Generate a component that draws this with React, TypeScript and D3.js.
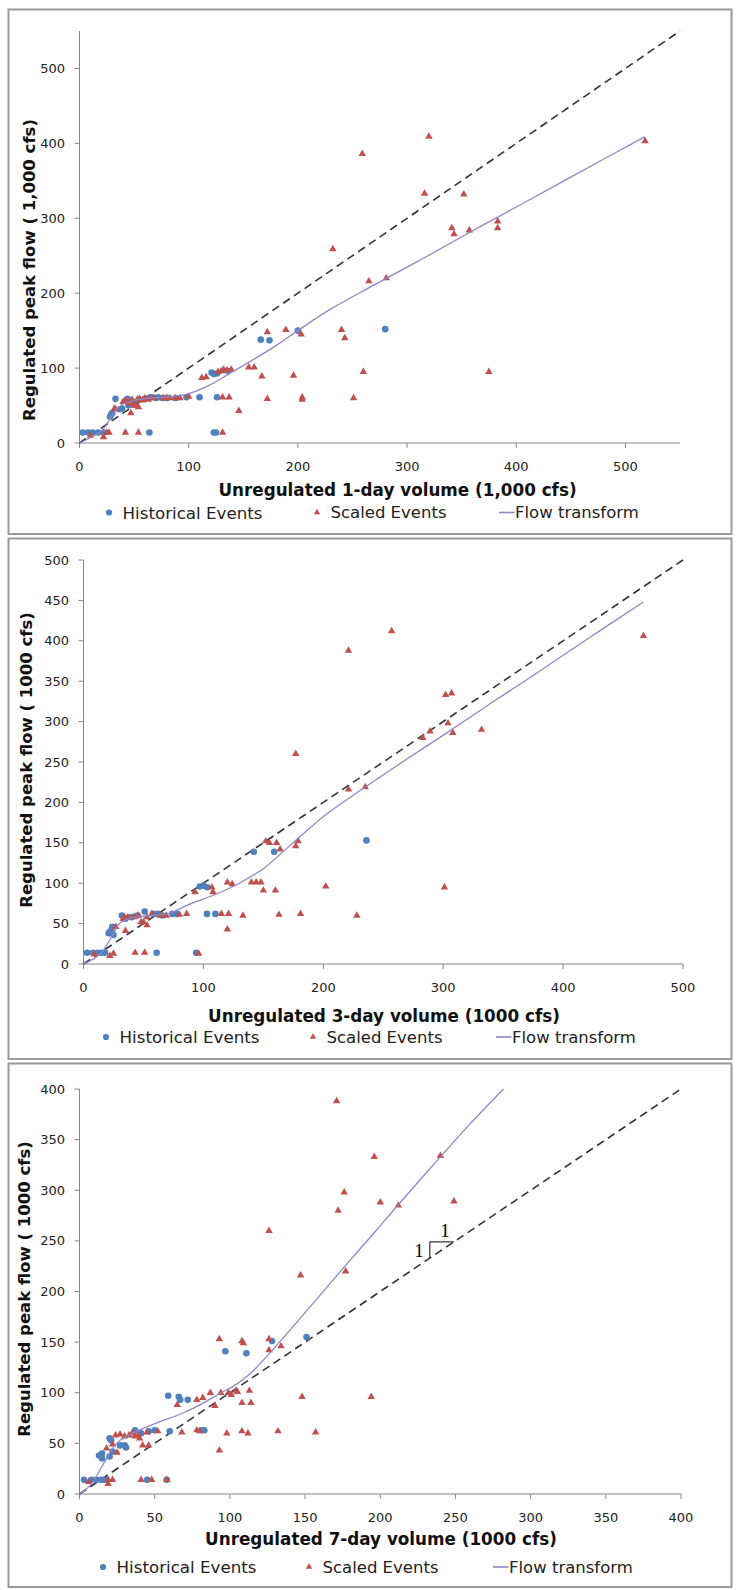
import React from "react";
import * as d3 from "d3";

// ---------- Panel 1 (1-day) ----------
const HIST1_X = [3, 8, 12, 17, 22, 28, 29, 30, 33, 37, 39, 44, 45, 50, 55, 60, 66, 70, 72, 76, 80, 88, 98, 110, 126, 64, 123, 125, 121, 123, 126, 136, 166, 174, 200, 280];
const HIST1_Y = [14, 14, 14, 14, 14, 35, 38, 40, 59, 45, 46, 59, 50, 55, 58, 59, 61, 60, 61, 60, 60, 60, 61, 61, 61, 14, 14, 14, 94, 92, 93, 96, 138, 137, 150, 152];
const SCALED1_X = [10, 22, 25, 27, 42, 54, 131, 32, 33, 40, 42, 45, 48, 50, 51, 53, 55, 58, 60, 63, 68, 77, 80, 83, 88, 92, 100, 47, 51, 54, 112, 116, 127, 130, 132, 135, 139, 131, 137, 172, 204, 204, 251, 146, 155, 160, 167, 196, 260, 375, 172, 189, 203, 240, 243, 232, 265, 281, 259, 320, 316, 352, 341, 343, 357, 383, 383, 518];
const SCALED1_Y = [10, 8, 14, 14, 14, 14, 14, 46, 45, 55, 57, 53, 58, 52, 50, 58, 59, 57, 60, 58, 60, 60, 60, 60, 60, 60, 62, 40, 50, 48, 87, 88, 95, 96, 98, 97, 98, 61, 61, 59, 61, 58, 60, 43, 101, 101, 89, 90, 95, 95, 148, 151, 145, 151, 140, 259, 216, 220, 386, 409, 333, 332, 287, 279, 284, 296, 287, 403];
const FLOW1_X = [0, 10, 20, 27, 33, 40, 50, 65, 85, 100, 120, 140, 160, 180, 200, 228, 270, 313, 356, 400, 450, 518];
const FLOW1_Y = [0, 7, 16, 30, 44, 52, 57, 60, 62, 66, 78, 95, 112, 130, 150, 177, 211, 245, 280, 315, 355, 409];
const X1_TICKS = [0, 100, 200, 300, 400, 500];
const Y1_TICKS = [0, 100, 200, 300, 400, 500];

// ---------- Panel 2 (3-day) ----------
const HIST2_X = [3, 8, 12, 15, 18, 61, 94, 21, 22, 23, 25, 24, 32, 35, 40, 45, 51, 58, 62, 66, 74, 78, 103, 110, 97, 100, 103, 142, 159, 236];
const HIST2_Y = [14, 14, 14, 14, 14, 14, 14, 38, 40, 41, 36, 46, 60, 56, 58, 60, 65, 62, 62, 60, 62, 62, 62, 62, 96, 97, 95, 139, 139, 153];
const SCALED2_X = [9, 22, 25, 43, 51, 96, 27, 35, 34, 33, 37, 42, 46, 48, 53, 57, 64, 69, 80, 86, 50, 53, 115, 121, 133, 163, 181, 120, 228, 93, 107, 108, 120, 124, 140, 144, 148, 150, 160, 152, 155, 161, 164, 177, 179, 202, 301, 221, 235, 177, 257, 221, 302, 307, 283, 289, 304, 308, 332, 467];
const SCALED2_Y = [12, 10, 13, 14, 14, 13, 46, 41, 58, 56, 58, 58, 60, 52, 58, 62, 60, 60, 61, 62, 52, 48, 62, 62, 60, 61, 62, 43, 60, 89, 95, 89, 101, 99, 101, 101, 101, 91, 91, 152, 150, 150, 142, 146, 152, 96, 95, 216, 219, 260, 412, 388, 333, 335, 280, 288, 298, 286, 290, 406];
const FLOW2_X = [0, 8, 15, 20, 25, 30, 40, 55, 70, 90, 110, 130, 150, 165, 180, 205, 235, 270, 303, 340, 375, 420, 467];
const FLOW2_Y = [0, 6, 14, 25, 38, 50, 57, 60, 62, 75, 86, 100, 118, 137, 157, 188, 219, 254, 286, 323, 357, 402, 448];
const X2_TICKS = [0, 100, 200, 300, 400, 500];
const Y2_TICKS = [0, 50, 100, 150, 200, 250, 300, 350, 400, 450, 500];

// ---------- Panel 3 (7-day) ----------
const HIST3_X = [3, 8, 11, 14, 16, 18, 45, 58, 13, 15, 15, 20, 22, 20, 21, 27, 30, 31, 37, 41, 46, 50, 60, 81, 83, 59, 66, 67, 72, 97, 111, 128, 151];
const HIST3_Y = [14, 14, 14, 14, 14, 14, 14, 14, 38, 40, 35, 37, 42, 55, 53, 48, 48, 46, 63, 60, 62, 63, 62, 63, 63, 97, 96, 93, 93, 141, 139, 151, 155];
const SCALED3_X = [6, 19, 22, 19, 41, 48, 58, 18, 22, 25, 24, 27, 30, 33, 35, 37, 39, 40, 42, 46, 45, 52, 68, 78, 80, 93, 98, 108, 112, 132, 157, 148, 65, 78, 82, 87, 90, 94, 99, 101, 104, 105, 113, 108, 114, 93, 108, 109, 126, 126, 134, 126, 147, 177, 172, 176, 196, 200, 212, 240, 249, 171, 194];
const SCALED3_Y = [12, 14, 14, 10, 14, 14, 14, 45, 49, 41, 58, 59, 57, 58, 60, 57, 58, 55, 48, 48, 61, 62, 61, 63, 62, 43, 60, 62, 60, 62, 61, 96, 88, 93, 95, 100, 87, 100, 100, 98, 102, 101, 102, 90, 90, 153, 151, 149, 153, 142, 146, 260, 216, 220, 280, 298, 333, 288, 285, 334, 289, 388, 96];
const FLOW3_X = [0, 8, 16, 22, 27, 38, 51, 69, 80, 93, 105, 115, 127, 147, 165, 180, 196, 211, 240, 260, 282];
const FLOW3_Y = [0, 10, 30, 45, 53, 62, 70, 80, 88, 99, 109, 121, 140, 174, 205, 231, 258, 284, 333, 366, 400];
const X3_TICKS = [0, 50, 100, 150, 200, 250, 300, 350, 400];
const Y3_TICKS = [0, 50, 100, 150, 200, 250, 300, 350, 400];
// slope annotation (data units)
const SLOPE3 = { x0: 233, x1: 249 };

const LEGEND_LABELS = ["Historical Events", "Scaled Events", "Flow transform"];

const BLUE = "#4f81bd";
const RED = "#c0504d";
const PURPLE = "#9484c9";
const AXIS = "#868686";
const FONT = "'DejaVu Sans', Verdana, sans-serif";

type PanelCfg = {
  box: [number, number];
  xMax: number;
  yMax: number;
  xRange: [number, number];
  yRange: [number, number];
  xTicks: number[];
  yTicks: number[];
  histX: number[];
  histY: number[];
  scaledX: number[];
  scaledY: number[];
  flowX: number[];
  flowY: number[];
  xTitle: string;
  yTitle: string;
  xTitlePos: [number, number];
  yTitlePos: [number, number];
  legendY: number;
  legendX: [number, number, number];
  slope?: boolean;
};

const tri = d3.symbol().type(d3.symbolTriangle).size(24)() as string;
const triSmall = d3.symbol().type(d3.symbolTriangle).size(18)() as string;

function Panel({ c }: { c: PanelCfg }) {
  const x = d3.scaleLinear().domain([0, c.xMax]).range(c.xRange);
  const y = d3.scaleLinear().domain([0, c.yMax]).range(c.yRange);
  const line = d3
    .line<number>()
    .x((_, i) => x(c.flowX[i]))
    .y((_, i) => y(c.flowY[i]))
    .curve(d3.curveCatmullRom.alpha(0.5));
  const one = Math.min(c.xMax, c.yMax);
  const [lx0, lx1, lx2] = c.legendX;
  return (
    <g>
      <rect x={8.5} y={c.box[0]} width={723} height={c.box[1] - c.box[0]} fill="#fff" stroke="#9a9a9a" strokeWidth={2} />
      {/* axes */}
      <line x1={x(0)} x2={x(c.xMax)} y1={y(0)} y2={y(0)} stroke={AXIS} strokeWidth={1} />
      <line x1={x(0)} x2={x(0)} y1={y(0)} y2={y(c.yMax)} stroke={AXIS} strokeWidth={1} />
      {c.xTicks.map((t) => (
        <g key={"xt" + t}>
          <line x1={x(t)} x2={x(t)} y1={y(0)} y2={y(0) + 5} stroke={AXIS} />
          <text x={x(t)} y={y(0) + 23.5} textAnchor="middle" dominantBaseline="central" fontSize={13} fontFamily={FONT} fill="#222">
            {t}
          </text>
        </g>
      ))}
      {c.yTicks.map((t) => (
        <g key={"yt" + t}>
          <line x1={x(0) - 5} x2={x(0)} y1={y(t)} y2={y(t)} stroke={AXIS} />
          <text x={x(0) - 14.5} y={y(t)} textAnchor="end" dominantBaseline="central" fontSize={13} fontFamily={FONT} fill="#222">
            {t}
          </text>
        </g>
      ))}
      {/* 1:1 line */}
      <line x1={x(0)} y1={y(0)} x2={x(one)} y2={y(one)} stroke="#333" strokeWidth={1.6} strokeDasharray="8,5" />
      {c.histX.map((v, i) => (
        <circle key={"h" + i} cx={x(v)} cy={y(c.histY[i])} r={3.3} fill={BLUE} />
      ))}
      {c.scaledX.map((v, i) => (
        <path key={"s" + i} d={tri} transform={`translate(${x(v)},${y(c.scaledY[i])})`} fill={RED} />
      ))}
      <path d={line(c.flowX) || ""} fill="none" stroke={PURPLE} strokeWidth={1.3} />
      {c.slope && (
        <g>
          <path
            d={`M${x(SLOPE3.x0)},${y(SLOPE3.x0)}L${x(SLOPE3.x0)},${y(SLOPE3.x1)}L${x(SLOPE3.x1)},${y(SLOPE3.x1)}`}
            fill="none"
            stroke="#000"
            strokeWidth={1}
          />
          <text x={x(SLOPE3.x1) - 9} y={y(SLOPE3.x1) - 5} textAnchor="middle" fontSize={19} fontFamily="'Liberation Serif', serif" fill="#000">
            1
          </text>
          <text x={x(SLOPE3.x0) - 6} y={(y(SLOPE3.x0) + y(SLOPE3.x1)) / 2 + 7} textAnchor="end" fontSize={19} fontFamily="'Liberation Serif', serif" fill="#000">
            1
          </text>
        </g>
      )}
      {/* titles */}
      <text x={c.xTitlePos[0]} y={c.xTitlePos[1]} textAnchor="middle" dominantBaseline="central" fontSize={16.8} fontWeight="bold" fontFamily={FONT} fill="#111">
        {c.xTitle}
      </text>
      <text
        transform={`translate(${c.yTitlePos[0]},${c.yTitlePos[1]}) rotate(-90)`}
        textAnchor="middle"
        dominantBaseline="central"
        fontSize={16.5}
        fontWeight="bold"
        fontFamily={FONT}
        fill="#111"
      >
        {c.yTitle}
      </text>
      {/* legend */}
      <circle cx={lx0} cy={c.legendY} r={3.1} fill={BLUE} />
      <text x={lx0 + 13.5} y={c.legendY} dominantBaseline="central" fontSize={16.7} fontFamily={FONT} fill="#222">
        {LEGEND_LABELS[0]}
      </text>
      <path d={triSmall} transform={`translate(${lx1},${c.legendY})`} fill={RED} />
      <text x={lx1 + 13.5} y={c.legendY} dominantBaseline="central" fontSize={16.5} fontFamily={FONT} fill="#222">
        {LEGEND_LABELS[1]}
      </text>
      <line x1={lx2} x2={lx2 + 15.5} y1={c.legendY} y2={c.legendY} stroke={PURPLE} strokeWidth={1.6} />
      <text x={lx2 + 16} y={c.legendY} dominantBaseline="central" fontSize={16.5} fontFamily={FONT} fill="#222">
        {LEGEND_LABELS[2]}
      </text>
    </g>
  );
}

const PANELS: PanelCfg[] = [
  {
    box: [9.5, 534],
    xMax: 550,
    yMax: 550,
    xRange: [79.5, 680],
    yRange: [443, 31],
    xTicks: X1_TICKS,
    yTicks: Y1_TICKS,
    histX: HIST1_X,
    histY: HIST1_Y,
    scaledX: SCALED1_X,
    scaledY: SCALED1_Y,
    flowX: FLOW1_X,
    flowY: FLOW1_Y,
    xTitle: "Unregulated 1-day volume (1,000 cfs)",
    yTitle: "Regulated peak flow ( 1,000 cfs)",
    xTitlePos: [397.5, 490],
    yTitlePos: [29, 270],
    legendY: 512.5,
    legendX: [109, 317, 499],
  },
  {
    box: [538.5, 1059],
    xMax: 500,
    yMax: 500,
    xRange: [83.5, 683],
    yRange: [964, 560],
    xTicks: X2_TICKS,
    yTicks: Y2_TICKS,
    histX: HIST2_X,
    histY: HIST2_Y,
    scaledX: SCALED2_X,
    scaledY: SCALED2_Y,
    flowX: FLOW2_X,
    flowY: FLOW2_Y,
    xTitle: "Unregulated 3-day volume (1000 cfs)",
    yTitle: "Regulated peak flow ( 1000 cfs)",
    xTitlePos: [384, 1015.5],
    yTitlePos: [26, 760],
    legendY: 1037,
    legendX: [106, 313, 496],
  },
  {
    box: [1063.5, 1587],
    xMax: 400,
    yMax: 400,
    xRange: [79.5, 681],
    yRange: [1494, 1089],
    xTicks: X3_TICKS,
    yTicks: Y3_TICKS,
    histX: HIST3_X,
    histY: HIST3_Y,
    scaledX: SCALED3_X,
    scaledY: SCALED3_Y,
    flowX: FLOW3_X,
    flowY: FLOW3_Y,
    xTitle: "Unregulated 7-day volume (1000 cfs)",
    yTitle: "Regulated peak flow ( 1000 cfs)",
    xTitlePos: [381, 1539],
    yTitlePos: [24, 1289],
    legendY: 1567,
    legendX: [103, 309, 493],
    slope: true,
  },
];

export default function App() {
  return (
    <>
      <style>{`body{margin:0}`}</style>
      <svg width={736} height={1590} style={{ display: "block", background: "#fff" }}>
        {PANELS.map((c, i) => (
          <Panel key={i} c={c} />
        ))}
      </svg>
    </>
  );
}
